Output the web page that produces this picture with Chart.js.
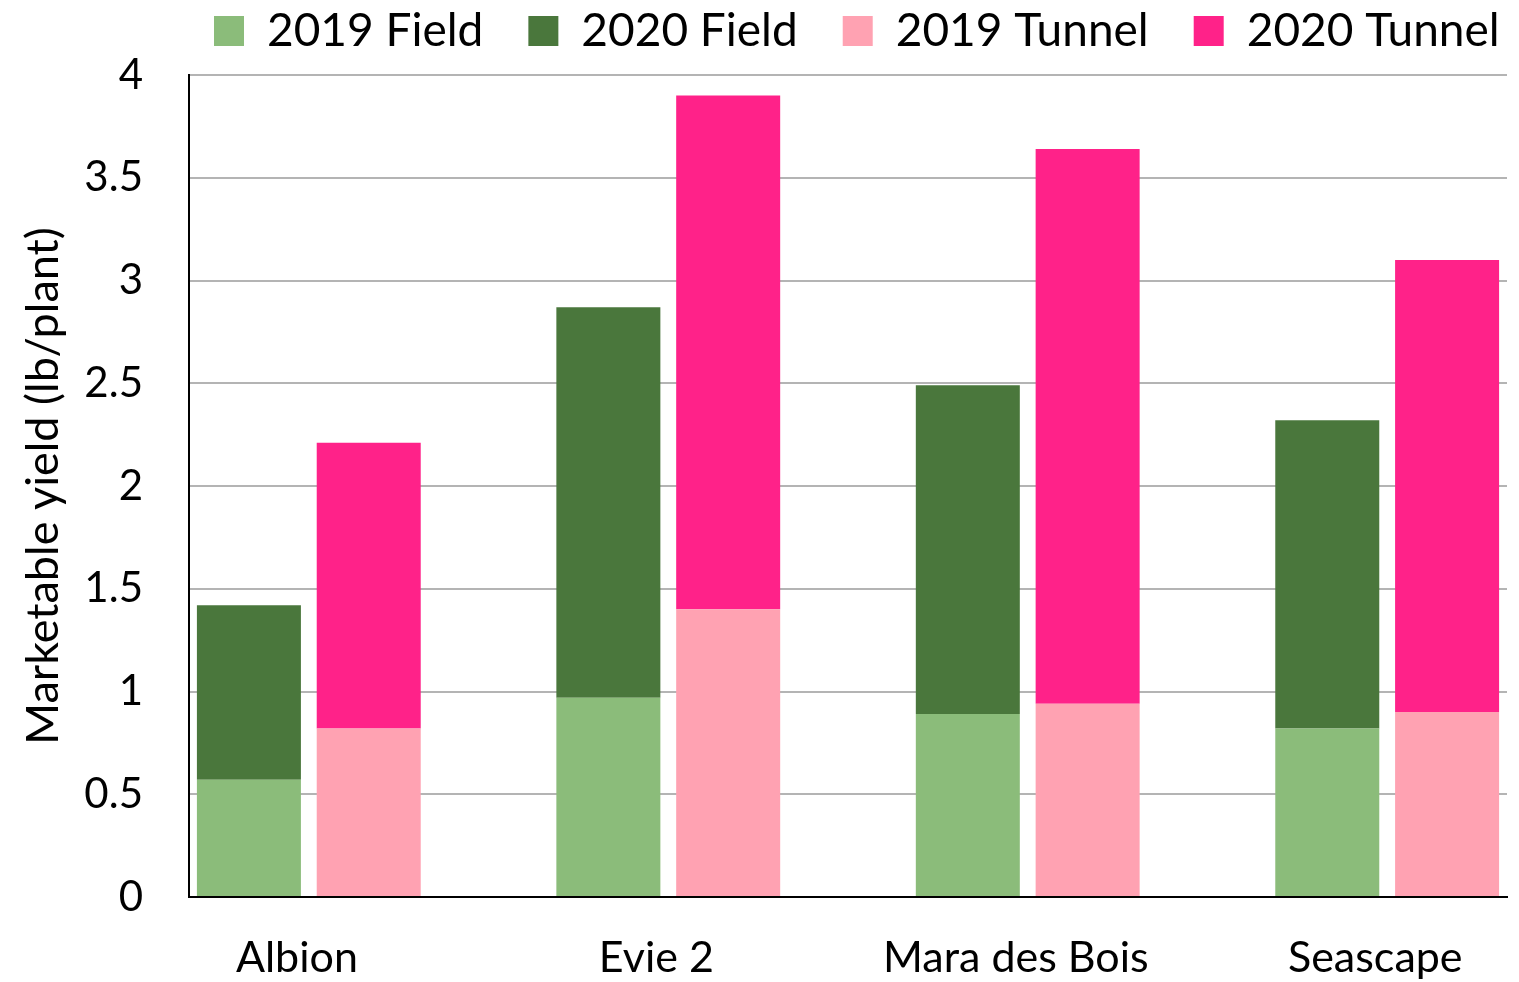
<!DOCTYPE html>
<html>
<head>
<meta charset="utf-8">
<script src="https://cdn.jsdelivr.net/npm/chart.js@4"></script>
<style>
  html, body { margin: 0; padding: 0; background: #ffffff; overflow: hidden; }
  #wrap { position: relative; width: 1519px; height: 982px; }
</style>
</head>
<body>
<div id="wrap"><canvas id="c"></canvas></div>
<script>
// ---- data (lb/plant) ----
const categories = ['Albion', 'Evie 2', 'Mara des Bois', 'Seascape'];
const field2019  = [0.57, 0.97, 0.89, 0.82];
const field2020  = [0.85, 1.90, 1.60, 1.50];
const tunnel2019 = [0.82, 1.40, 0.94, 0.90];
const tunnel2020 = [1.39, 2.50, 2.70, 2.20];
const yTicks = [0, 0.5, 1, 1.5, 2, 2.5, 3, 3.5, 4];

// ---- slot layout: Field bar, Tunnel bar, gap, ... ----
const nSlots = categories.length * 3 - 1;
const slotLabels = [];
for (let s = 0; s < nSlots; s++) slotLabels.push('');
function toSlots(values, offset) {
  const out = new Array(nSlots).fill(null);
  values.forEach((v, i) => { out[i * 3 + offset] = v; });
  return out;
}

const FONT = 'Lato';

const legendPlacer = {
  id: 'legendPlacer',
  afterLayout(chart) {
    const lg = chart.legend;
    if (!lg) return;
    const pad = lg.options.labels.padding;
    lg.top = 8 - pad;
    lg.left = 214 - pad;
    lg.right = 2400;
  }
};

new Chart(document.getElementById('c'), {
  type: 'bar',
  data: {
    labels: slotLabels,
    datasets: [
      { label: '2019 Field',  data: toSlots(field2019, 0),  backgroundColor: '#8BBC7A' },
      { label: '2020 Field',  data: toSlots(field2020, 0),  backgroundColor: '#4A773C' },
      { label: '2019 Tunnel', data: toSlots(tunnel2019, 1), backgroundColor: '#FFA2B2' },
      { label: '2020 Tunnel', data: toSlots(tunnel2020, 1), backgroundColor: '#FF2289' }
    ]
  },
  options: {
    responsive: true,
    maintainAspectRatio: false,
    animation: false,
    barPercentage: 0.868,
    categoryPercentage: 1.0,
    layout: { padding: { top: -26, left: 0, right: 12, bottom: 0 } },
    plugins: {
      tooltip: { enabled: false },
      legend: {
        position: 'top',
        align: 'start',
        labels: {
          boxWidth: 30,
          boxHeight: 30,
          padding: 45,
          color: '#000000',
          font: { family: FONT, size: 46 }
        }
      }
    },
    scales: {
      x: {
        stacked: true,
        grid: { display: false, drawTicks: false },
        border: { display: true, color: '#000000', width: 2 },
        ticks: {
          autoSkip: false,
          maxRotation: 0,
          minRotation: 0,
          padding: 35,
          labelOffset: 48,
          color: '#000000',
          font: { family: FONT, size: 43 },
          callback: (v, i) => (i % 3 === 0 ? categories[i / 3] : '')
        },
        afterFit: (s) => { s.height = 85; }
      },
      y: {
        stacked: true,
        min: 0,
        max: 4,
        afterBuildTicks: (s) => { s.ticks = yTicks.map(v => ({ value: v })); },
        grid: { color: '#B4B4B4', lineWidth: 2, drawTicks: false },
        border: { display: true, color: '#000000', width: 2 },
        ticks: {
          padding: 46,
          color: '#000000',
          font: { family: FONT, size: 42 },
          callback: (v) => String(v)
        },
        title: {
          display: true,
          text: 'Marketable yield (lb/plant)',
          color: '#000000',
          font: { family: FONT, size: 45 },
          padding: { top: 16, bottom: 0 }
        },
        afterFit: (s) => { s.width = 189; }
      }
    }
  },
  plugins: [legendPlacer]
});
</script>
</body>
</html>
